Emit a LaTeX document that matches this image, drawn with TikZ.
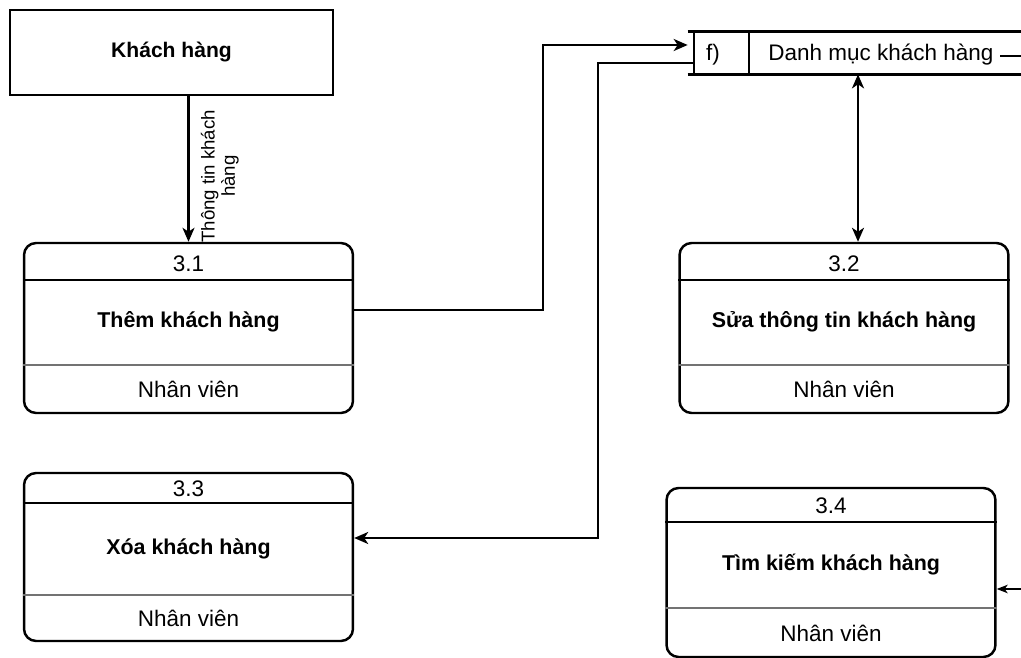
\documentclass[tikz,border=0pt]{standalone}
\usepackage{fontspec}
\setmainfont{Liberation Sans}
\usetikzlibrary{arrows.meta}
\tikzset{ proc/.style = { rectangle % process box
        , draw
        , line width = 1.4pt
        , rounded corners = 0.24cm
        , minimum width = 6.58cm
        , minimum height = 3.4cm
        , inner sep = 0pt
        }
        , ent/.style = { rectangle % external entity
        , draw
        , line width = 1.4pt
        , minimum width = 6.46cm
        , minimum height = 1.7cm
        , font = \fontsize{12}{14}\selectfont\bfseries
        }
        , store/.style = { rectangle % data store
        , minimum width = 6.66cm
        , minimum height = 0.84cm
        , inner sep = 0pt
        }
        , txt/.style = { font = \fontsize{12.8}{15}\selectfont } % plain text
        , ttl/.style = { font = \fontsize{12.2}{15}\selectfont\bfseries } % process title
        }

\begin{document}
\begin{tikzpicture}[x=0.02cm, y=-0.02cm, line join=miter,
        flow/.style={draw=black, line width=1.4pt, -{Stealth[length=0.28cm, width=0.24cm, inset=0.08cm]}},
        thinflow/.style={draw=black, line width=0.9pt, -{Stealth[length=0.22cm, width=0.17cm, inset=0.06cm]}},
        hdr/.style={draw=black, line width=1pt},
        sep/.style={draw=black!55, line width=1pt}]
        \useasboundingbox (0,0) rectangle (1021,658);

        \node [ent] (kh) at (171.5,52.5) {Khách hàng};

        \node [proc] (p31) at (188.5,328) {};
        \node [proc] (p32) at (844,328) {};
        \node [proc, minimum height=3.36cm] (p33) at (188.5,557) {};
        \node [proc, minimum height=3.38cm] (p34) at (831,572.5) {};

        \draw [hdr] (p31.west |- 0,280) -- (p31.east |- 0,280);
        \draw [sep] (p31.west |- 0,365) -- (p31.east |- 0,365);
        \draw [hdr] (p32.west |- 0,280) -- (p32.east |- 0,280);
        \draw [sep] (p32.west |- 0,365) -- (p32.east |- 0,365);
        \draw [hdr] (p33.west |- 0,503) -- (p33.east |- 0,503);
        \draw [sep] (p33.west |- 0,595) -- (p33.east |- 0,595);
        \draw [hdr] (p34.west |- 0,522) -- (p34.east |- 0,522);
        \draw [sep] (p34.west |- 0,608) -- (p34.east |- 0,608);

        \node [txt] (n31) at (188.5,264) {3.1};
        \node [ttl] (t31) at (188.5,322) {Thêm khách hàng};
        \node [txt] (r31) at (188.5,389) {Nhân viên};
        \node [txt] (n32) at (844,264) {3.2};
        \node [ttl] (t32) at (844,322) {Sửa thông tin khách hàng};
        \node [txt] (r32) at (844,389) {Nhân viên};
        \node [txt] (n33) at (188.5,489) {3.3};
        \node [ttl] (t33) at (188.5,549) {Xóa khách hàng};
        \node [txt] (r33) at (188.5,618) {Nhân viên};
        \node [txt] (n34) at (831,506) {3.4};
        \node [ttl] (t34) at (831,565) {Tìm kiếm khách hàng};
        \node [txt] (r34) at (831,633) {Nhân viên};

        % data store
        \node [store] (dm) at (854.5,53) {};
        \coordinate (dmL) at (694,53);
        \coordinate (dmD) at (749,53);
        \draw [line width=1.4pt] (dm.north west) -- (dm.north east) (dm.south west) -- (dm.south east);
        \draw [line width=1.4pt] (dmL |- dm.north) -- (dmL |- dm.south);
        \draw [line width=1.4pt] (dmD |- dm.north) -- (dmD |- dm.south);
        \node [txt] (dmf) at (713,55) {f)};
        \node [txt] (dmt) at (881,55) {Danh mục khách hàng};

        % flows
        \draw [flow] (kh.south -| p31.north) -- node [pos=0.55, font=\fontsize{10.6}{11.5}\selectfont, rotate=90, align=center, anchor=north, yshift=-3pt] {Thông tin khách\\hàng} (p31.north);
        \draw [flow] (p31.east |- 0,310) -| (543,45) -- (dm.west |- 0,45);
        \draw [flow] (dmL |- 0,63) -| (598,538) -- (p33.east |- 0,538);
        \draw [flow, {Stealth[length=0.28cm, width=0.24cm, inset=0.08cm]}-{Stealth[length=0.28cm, width=0.24cm, inset=0.08cm]}] (dm.south -| 858,0) -- (p32.north -| 858,0);
        \coordinate (out1) at (1000,56);
        \coordinate (out2) at (1021,56);
        \draw [line width=1.4pt] (out1) -- (out2);
        \coordinate (in4) at (1021,589);
        \draw [thinflow] (in4) -- (p34.east |- in4);
\end{tikzpicture}
\end{document}
